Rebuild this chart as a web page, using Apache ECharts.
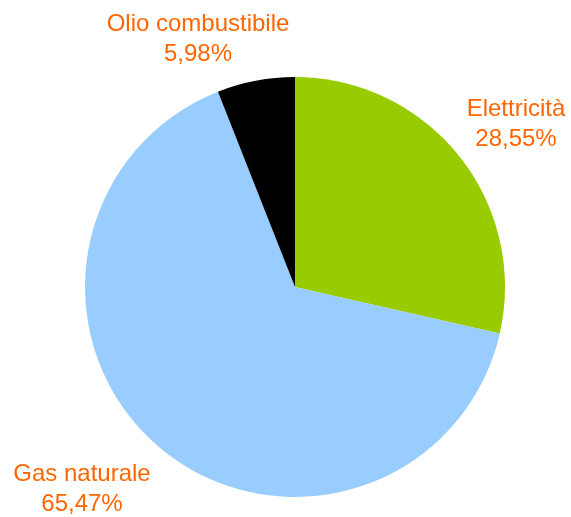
<!DOCTYPE html>
<html>
<head>
<meta charset="utf-8">
<script src="https://cdn.jsdelivr.net/npm/echarts@6/dist/echarts.min.js"></script>
<style>
  html, body { margin: 0; padding: 0; background: #ffffff; }
  #chart { width: 571px; height: 517px; }
</style>
</head>
<body>
<div id="chart"></div>
<script>
// Energy consumption shares by source
var categories = ['Elettricità', 'Gas naturale', 'Olio combustibile'];
var shares = [28.55, 65.47, 5.98];
var sliceColors = ['#99CC00', '#99CCFF', '#000000'];

// Label anchor points (centre of each two-line label)
var labelSpots = [[516, 124], [82, 489], [198, 39]];

var chart = echarts.init(document.getElementById('chart'));

chart.setOption({
  animation: false,
  backgroundColor: '#ffffff',
  series: [{
    type: 'pie',
    center: [295, 287],
    radius: [0, 210],
    startAngle: 90,
    clockwise: true,
    data: categories.map(function (name, i) {
      return { name: name, value: shares[i], itemStyle: { color: sliceColors[i] } };
    }),
    itemStyle: { borderWidth: 0 },
    label: {
      show: true,
      position: 'outside',
      color: '#FF6600',
      fontFamily: 'Liberation Sans, Arial, sans-serif',
      fontSize: 24,
      lineHeight: 30,
      align: 'center',
      overflow: 'none',
      width: 300,
      formatter: function (p) {
        return p.name + '\n' + p.value.toFixed(2).replace('.', ',') + '%';
      }
    },
    labelLine: { show: false },
    labelLayout: function (params) {
      var s = labelSpots[params.dataIndex];
      return { x: s[0], y: s[1], align: 'center', verticalAlign: 'middle' };
    },
    emphasis: { disabled: true }
  }]
});
</script>
</body>
</html>
